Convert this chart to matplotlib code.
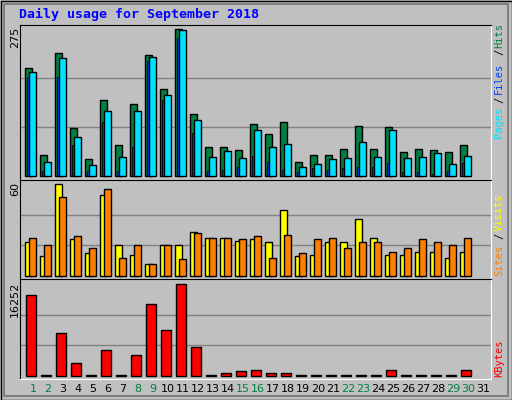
import matplotlib
matplotlib.use("Agg")
import matplotlib.pyplot as plt
import numpy as np

days = list(range(1, 32))
hits  = [202,40,230,90,32,141,58,135,226,163,275,116,55,55,49,98,79,101,27,40,40,51,94,51,92,44,51,49,44,57,0]
files = [195,27,221,73,21,122,36,122,223,152,273,105,36,47,34,86,55,60,17,23,32,34,64,36,85,34,36,42,23,38,0]
pages = [185,10,185,57,10,101,10,55,215,141,258,81,10,12,16,38,27,12,8,14,12,14,16,16,25,8,8,4,10,25,0]
visits= [22,13,60,24,15,53,20,14,8,20,20,29,25,25,23,24,22,43,13,14,22,22,37,25,14,14,16,16,12,16,0]
sites = [25,20,52,26,18,57,12,20,8,20,11,28,25,25,24,26,12,27,15,24,25,18,22,22,16,18,24,22,20,25,0]
kbytes= [14295,120,7533,2254,120,4508,120,3618,12693,8067,16252,5042,120,475,830,1008,475,475,120,120,120,120,120,120,1008,120,120,120,120,1008,0]
weekend = {1,2,8,9,15,16,22,23,29,30}

W, H = 512, 400
fig = plt.figure(figsize=(W/100, H/100), dpi=100, facecolor="#C0C0C0")
mono = "DejaVu Sans Mono"

def ax_at(y0, y1):
    a = fig.add_axes([20/W, 1-y1/H, 471/W, (y1-y0)/H])
    a.set_facecolor("#C0C0C0")
    a.set_xlim(0.5, 0.5+471/15)
    a.set_xticks([]); a.set_yticks([])
    for s in ("top", "left"):
        a.spines[s].set_color("black")
    for s in ("bottom", "right"):
        a.spines[s].set_color("white")
    return a

x = np.array(days, dtype=float)
ek = dict(edgecolor="black", linewidth=1, align="edge")

a1 = ax_at(25, 180)
a1.set_ylim(-7.5, 282)
for g in (275/3, 2*275/3):
    a1.axhline(g, color="#808080", lw=1, zorder=0)
m = np.array(hits) > 0
a1.bar(x[m]-0.167, np.array(hits)[m], 0.47, color="#008040", **ek)
a1.bar(x[m]-0.03, np.array(pages)[m], 0.13, color="#0040FF", edgecolor="black", linewidth=0.6, align="edge")
a1.bar(x[m]+0.1, np.array(files)[m], 0.47, color="#00E0FF", **ek)

a2 = ax_at(180, 279)
a2.set_ylim(-2, 62.8)
for g in (20, 40):
    a2.axhline(g, color="#808080", lw=1, zorder=0)
a2.bar(x[m]-0.167, np.array(visits)[m], 0.47, color="#FFFF00", **ek)
a2.bar(x[m]+0.1, np.array(sites)[m], 0.47, color="#FF8000", **ek)

a3 = ax_at(279, 379)
a3.set_ylim(-590, 17195)
for g in (16252/3, 2*16252/3):
    a3.axhline(g, color="#808080", lw=1, zorder=0)
a3.bar(x[m]-0.1, np.array(kbytes)[m], 0.67, color="#FF0000", **ek)

for d in days:
    fig.text((20+(d+0.37-0.5)*15)/W, 1-389/H, str(d), ha="center", va="center",
             fontsize=8, family="DejaVu Sans", color="#008040" if d in weekend else "black")

fig.text(19/W, 1-14/H, "Daily usage for September 2018", fontsize=9.5, family=mono,
         weight="bold", color="#0000FF", va="center", ha="left")

for lbl, ytop in (("275", 27), ("60", 182), ("16252", 282)):
    fig.text(15/W, 1-ytop/H, lbl, rotation=90, fontsize=8, family="DejaVu Sans",
             ha="center", va="top")

def vlabel(s, yc, col):
    fig.text(499/W, 1-yc/H, s, rotation=90, fontsize=7.5, family=mono,
             color=col, ha="center", va="center")
vlabel("Hits", 36, "#008040"); vlabel("/", 52, "black"); vlabel("Files", 78, "#0040FF")
vlabel("/", 100, "black"); vlabel("Pages", 122, "#00E0FF")
vlabel("Visits", 212, "#FFFF00"); vlabel("/", 236, "black"); vlabel("Sites", 260, "#FF8000")
vlabel("KBytes", 358, "#FF0000")

fig.patches.append(plt.Rectangle((0.5/W, 0.5/H), 1-1/W, 1-1/H, transform=fig.transFigure,
                                 fill=False, edgecolor="black", linewidth=1))
fig.patches.append(plt.Rectangle((4/W, 4/H), 1-8/W, 1-8/H, transform=fig.transFigure,
                                 fill=False, edgecolor="#808080", linewidth=1.5))
fig.savefig("out.png", dpi=100, facecolor=fig.get_facecolor())
